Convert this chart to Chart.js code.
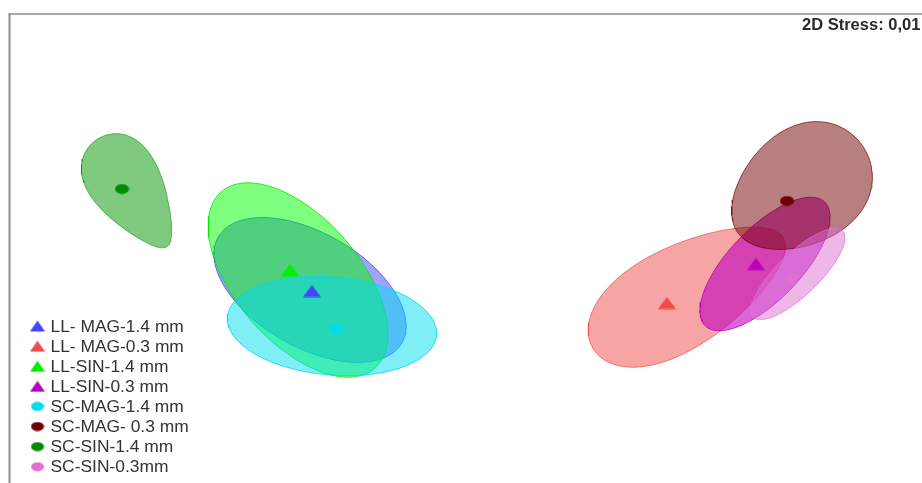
<!DOCTYPE html>
<html>
<head>
<meta charset="utf-8">
<script src="https://cdn.jsdelivr.net/npm/chart.js@4/dist/chart.umd.min.js"></script>
<style>
  html, body { margin: 0; padding: 0; background: #ffffff; overflow: hidden; }
  #wrap { position: relative; width: 922px; height: 483px; }
</style>
</head>
<body>
<div id="wrap"><canvas id="nmds" width="922" height="483"></canvas></div>
<script>
// Groups of the NMDS ordination
const groups = ['LL- MAG-1.4 mm', 'LL- MAG-0.3 mm', 'LL-SIN-1.4 mm', 'LL-SIN-0.3 mm',
                'SC-MAG-1.4 mm', 'SC-MAG- 0.3 mm', 'SC-SIN-1.4 mm', 'SC-SIN-0.3mm'];
const markerShapes = ['triangle', 'triangle', 'triangle', 'triangle',
                      'circle', 'circle', 'circle', 'circle'];

// Group centroids (ordination units)
const centroidX = [30.2, 65.7, 28.0, 74.6, 32.6, 77.7, 11.2, 78.1];
const centroidY = [19.2, 18.0, 21.3, 21.9, 15.4, 28.2, 29.4, 20.6];

// Dispersion ellipses: centre, semi-axes, rotation (deg) and taper of one end
const ellipseCX    = [30.0, 67.8, 28.8, 75.5, 32.2, 79.0, 12.2, 78.8];
const ellipseCY    = [19.3, 19.0, 20.3, 21.9, 15.7, 29.4, 29.0, 20.9];
const ellipseMajor = [10.6, 11.0, 11.7, 8.6, 10.5, 7.6, 6.4, 6.2];
const ellipseMinor = [5.7, 5.0, 6.2, 3.6, 4.9, 5.7, 3.4, 2.1];
const ellipseAngle = [-30, 30, -49, 46, -5, 35, -57, 44];
const ellipseTaper = [0, -0.2, 0, 0, 0, 0.15, -0.4, 0];

const stressLabel = '2D Stress: 0,01';

// Colours per group
const markerColors = ['#4444ff', '#f04a4a', '#00ee00', '#bb00bb',
                      '#00dcef', '#700000', '#008c00', '#e070d4'];
const fillColors = ['rgba(68,68,255,0.5)', 'rgba(240,74,74,0.5)', 'rgba(0,255,0,0.5)',
                    'rgba(190,0,190,0.6)', 'rgba(0,222,240,0.5)', 'rgba(112,0,0,0.5)',
                    'rgba(0,150,0,0.5)', 'rgba(222,112,210,0.5)'];
const edgeColors = ['rgba(68,68,255,0.8)', 'rgba(240,74,74,0.7)', 'rgba(0,230,0,0.8)',
                    'rgba(180,0,180,0.8)', 'rgba(0,215,235,0.8)', 'rgba(112,0,0,0.7)',
                    'rgba(0,150,0,0.6)', 'rgba(222,112,210,0.7)'];

function ellipsePoints(i) {
  const pts = [];
  const n = 120;
  const th = ellipseAngle[i] * Math.PI / 180;
  const c = Math.cos(th), s = Math.sin(th);
  for (let k = 0; k <= n; k++) {
    const t = (k % n) / n * Math.PI * 2;
    const u = ellipseMajor[i] * Math.cos(t);
    const v = ellipseMinor[i] * Math.sin(t) * (1 + ellipseTaper[i] * Math.cos(t));
    pts.push({ x: ellipseCX[i] + u * c - v * s, y: ellipseCY[i] + u * s + v * c });
  }
  return pts;
}

function markerImage(shape, color, w, h) {
  const cv = document.createElement('canvas');
  cv.width = w; cv.height = h;
  const g = cv.getContext('2d');
  g.fillStyle = color;
  g.beginPath();
  if (shape === 'triangle') {
    g.moveTo(w / 2, 0.5);
    g.lineTo(w - 0.5, h - 0.5);
    g.lineTo(0.5, h - 0.5);
    g.closePath();
  } else {
    g.ellipse(w / 2, h / 2, w / 2 - 0.5, h / 2 - 0.5, 0, 0, Math.PI * 2);
  }
  g.fill();
  return cv;
}

const plotMarkers = groups.map((g, i) => markerShapes[i] === 'triangle'
  ? markerImage('triangle', markerColors[i], 19, 13)
  : markerImage('circle', markerColors[i], 15, 11));
const legendMarkers = groups.map((g, i) => markerShapes[i] === 'triangle'
  ? markerImage('triangle', markerColors[i], 16, 12)
  : markerImage('circle', markerColors[i], 14, 10));

const datasets = [];
groups.forEach((name, i) => {
  datasets.push({
    label: name + ' ellipse',
    data: ellipsePoints(i),
    showLine: true,
    fill: 'shape',
    backgroundColor: fillColors[i],
    borderColor: edgeColors[i],
    borderWidth: 1,
    pointRadius: 0,
    tension: 0,
    order: 20 - i
  });
});
groups.forEach((name, i) => {
  datasets.push({
    label: name,
    data: [{ x: centroidX[i], y: centroidY[i] }],
    pointStyle: plotMarkers[i],
    pointRadius: 8,
    backgroundColor: markerColors[i],
    borderColor: markerColors[i],
    order: 1
  });
});

// Frame, stress annotation and legend
const decorations = {
  id: 'decorations',
  beforeDraw(chart) {
    const ctx = chart.ctx;
    ctx.save();
    ctx.strokeStyle = '#a8a8a8';
    ctx.lineWidth = 2;
    ctx.beginPath();
    ctx.moveTo(9, 14);
    ctx.lineTo(922, 14);
    ctx.stroke();
    ctx.strokeStyle = '#8c8c8c';
    ctx.beginPath();
    ctx.moveTo(9.5, 13);
    ctx.lineTo(9.5, 483);
    ctx.stroke();
    ctx.restore();
  },
  afterDraw(chart) {
    const ctx = chart.ctx;
    ctx.save();
    ctx.fillStyle = '#2a2a2a';
    ctx.font = 'bold 16.5px "Liberation Sans", Arial, sans-serif';
    ctx.textAlign = 'left';
    ctx.textBaseline = 'middle';
    ctx.fillText(stressLabel, 802, 25);

    ctx.font = '17.4px "Liberation Sans", Arial, sans-serif';
    ctx.fillStyle = '#333333';
    groups.forEach((name, i) => {
      const y = 326 + i * 20.1;
      const img = legendMarkers[i];
      ctx.drawImage(img, 37.5 - img.width / 2, y - img.height / 2);
      ctx.fillText(name, 50.5, y + 1);
    });
    ctx.restore();
  }
};

new Chart(document.getElementById('nmds'), {
  type: 'scatter',
  data: { datasets },
  options: {
    responsive: false,
    animation: false,
    events: [],
    layout: { autoPadding: false, padding: { left: 10, top: 14, right: 0, bottom: 0 } },
    plugins: { legend: { display: false }, tooltip: { enabled: false } },
    scales: {
      x: { type: 'linear', min: 0, max: 91.2, display: false },
      y: { type: 'linear', min: 0, max: 46.9, display: false }
    }
  },
  plugins: [decorations]
});
</script>
</body>
</html>
